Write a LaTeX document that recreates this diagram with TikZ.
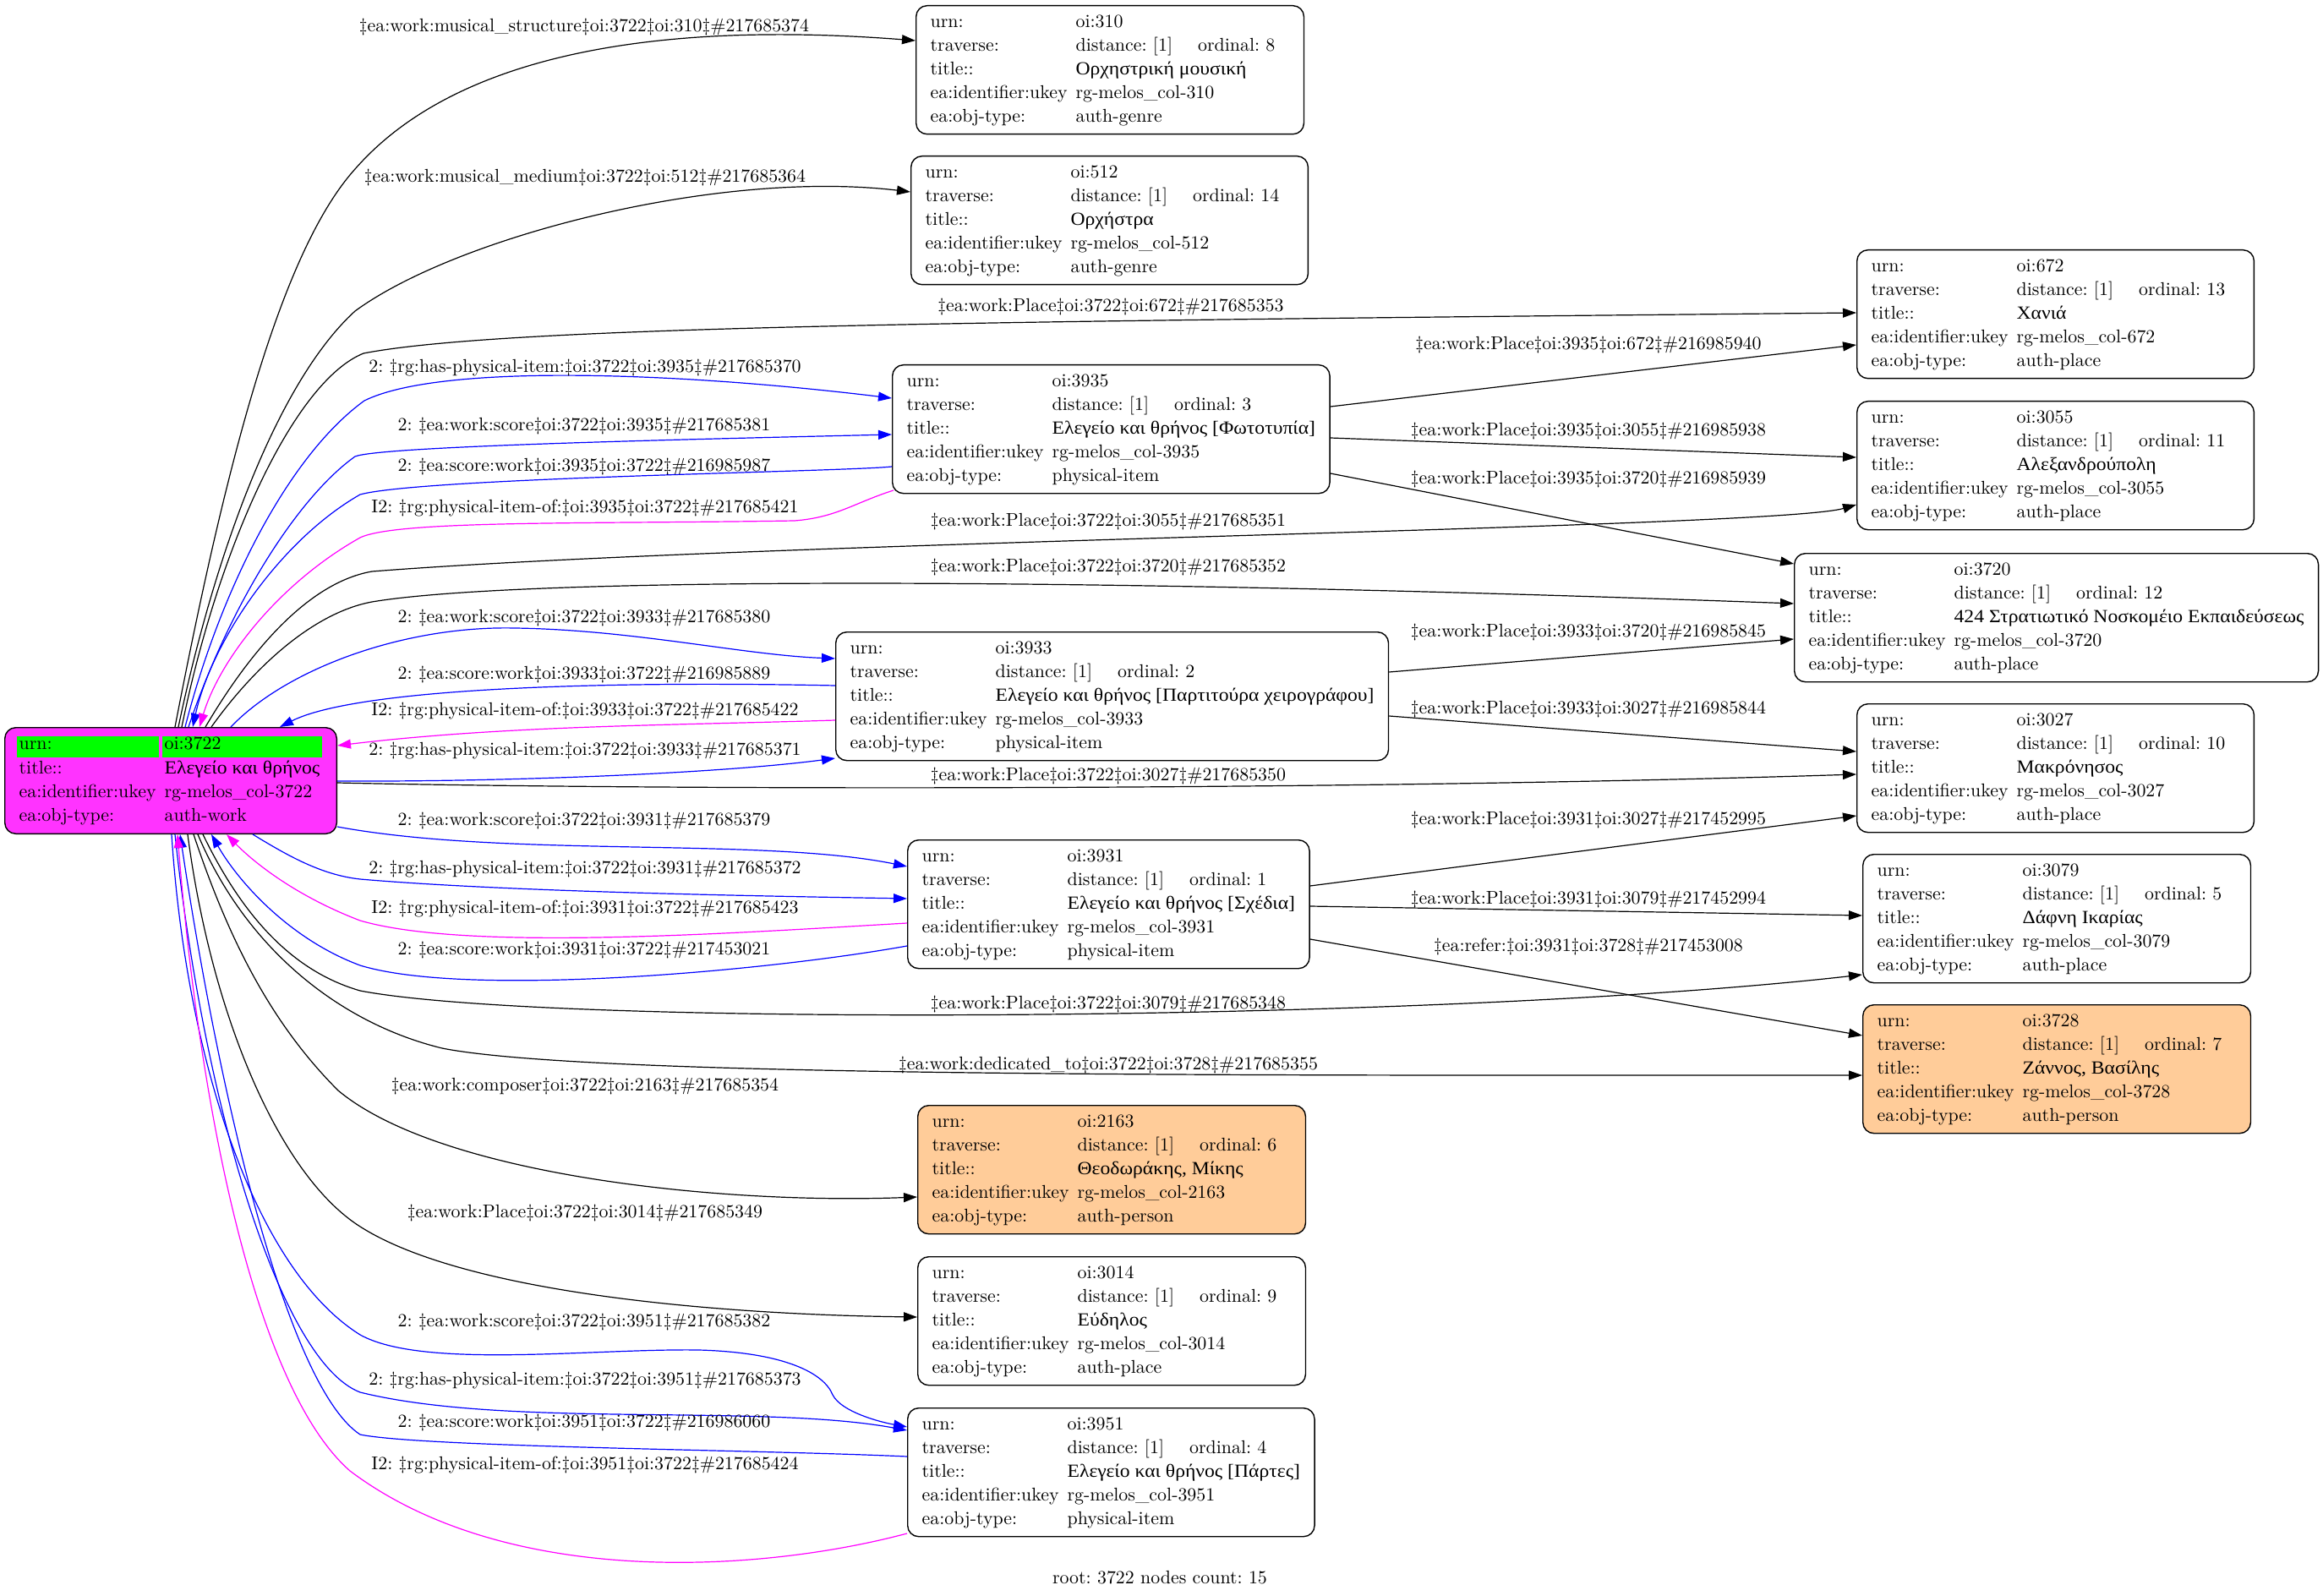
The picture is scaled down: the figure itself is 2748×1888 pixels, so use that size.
\documentclass[tikz,border=0pt]{standalone}
\usepackage{fontspec}
\usepackage{xcolor}
\usepackage{tikz}
\usetikzlibrary{arrows.meta}
\newfontfamily\gr[FakeStretch=1.08]{Liberation Serif}
\definecolor{rootpink}{RGB}{255,51,255}
\definecolor{peach}{RGB}{255,204,153}
\definecolor{hlgreen}{RGB}{0,255,0}
\definecolor{pinkline}{RGB}{255,0,255}
\definecolor{blueline}{RGB}{0,0,255}
\tikzset{
    record/.style={
        rectangle,
        rounded corners=6.5pt,
        draw=black,
        line width=0.7pt,
        fill=white,
        anchor=north west,
        inner xsep=8.5pt,
        inner ysep=3pt,
        font=\fontsize{10.95}{14}\selectfont,
    },
    person/.style={record, fill=peach},
    rootrec/.style={record, fill=rootpink},
    lbl/.style={inner sep=0pt, font=\fontsize{10.95}{14}\selectfont},
    plainedge/.style={->, draw=black, line width=0.6pt},
    blueedge/.style={->, draw=blueline, line width=0.6pt},
    pinkedge/.style={->, draw=pinkline, line width=0.6pt},
}
\newcommand{\recbody}[4]{%
  \begin{tabular}{@{}l@{\hspace{5pt}}l@{}}
    urn: & oi:#1\\
    traverse: & distance: [1]\hspace{15pt}ordinal: #2\kern8.5pt\\
    title:: & #3\\
    ea:identifier:ukey & rg-melos\_col-#1\\
    ea:obj-type: & #4
  \end{tabular}}
\newcommand{\hlcell}[2]{\hspace{-1.5pt}{\setlength{\fboxsep}{1.5pt}\colorbox{hlgreen}{\rule[-3.5pt]{0pt}{9.5pt}\smash{\rlap{#1}}\hphantom{#2}}}\hspace{-1.5pt}}
\frenchspacing

\begin{document}
\begin{tikzpicture}[x=0.5pt, y=-0.5pt, >={Triangle[length=8pt,width=5.5pt]}]
      \path[fill=white] (0,0) rectangle (2748,1888);
      \useasboundingbox (0,0) rectangle (2748,1888);

      % root record
      \node [rootrec] (Root) at (5,860) {\begin{tabular}{@{}l@{\hspace{5pt}}l@{}}
        \hlcell{urn:}{ea:identifier:ukey} & \hlcell{oi:3722}{\gr Ελεγείο και θρήνος}\\
        title:: & {\gr Ελεγείο και θρήνος}\\
        ea:identifier:ukey & rg-melos\_col-3722\\
        ea:obj-type: & auth-work
      \end{tabular}};

      % middle column
      \node [record] (N310) at (1083,6) {\recbody{310}{8}{{\gr Ορχηστρική μουσική}}{auth-genre}};
      \node [record] (N512) at (1077,184) {\recbody{512}{14}{{\gr Ορχήστρα}}{auth-genre}};
      \node [record] (N3935) at (1055,431) {\recbody{3935}{3}{{\gr Ελεγείο και θρήνος [Φωτοτυπία]}}{physical-item}};
      \node [record] (N3933) at (988,747) {\recbody{3933}{2}{{\gr Ελεγείο και θρήνος [Παρτιτούρα χειρογράφου]}}{physical-item}};
      \node [record] (N3931) at (1073,993) {\recbody{3931}{1}{{\gr Ελεγείο και θρήνος [Σχέδια]}}{physical-item}};
      \node [person] (N2163) at (1085,1307) {\recbody{2163}{6}{{\gr Θεοδωράκης, Μίκης}}{auth-person}};
      \node [record] (N3014) at (1085,1486) {\recbody{3014}{9}{{\gr Εύδηλος}}{auth-place}};
      \node [record] (N3951) at (1073,1665) {\recbody{3951}{4}{{\gr Ελεγείο και θρήνος [Πάρτες]}}{physical-item}};

      % right column
      \node [record] (N672) at (2196,295) {\recbody{672}{13}{{\gr Χανιά}}{auth-place}};
      \node [record] (N3055) at (2196,474) {\recbody{3055}{11}{{\gr Αλεξανδρούπολη}}{auth-place}};
      \node [record] (N3720) at (2122,654) {\recbody{3720}{12}{{\gr 424 Στρατιωτικό Νοσκομέιο Εκπαιδεύσεως}}{auth-place}};
      \node [record] (N3027) at (2196,832) {\recbody{3027}{10}{{\gr Μακρόνησος}}{auth-place}};
      \node [record] (N3079) at (2203,1010) {\recbody{3079}{5}{{\gr Δάφνη Ικαρίας}}{auth-place}};
      \node [person] (N3728) at (2203,1188) {\recbody{3728}{7}{{\gr Ζάννος, Βασίλης}}{auth-person}};

      % edges leaving the top of the root
      \draw[plainedge] ([shift={(202,0)}]Root.north west) .. controls (265,560) and (330,300) .. (420,200) .. controls (560,40) and (850,30) .. ([shift={(0,42)}]N310.north west);
      \draw[plainedge] ([shift={(206,0)}]Root.north west) .. controls (255,650) and (330,450) .. (420,368) .. controls (540,280) and (850,200) .. ([shift={(0,43)}]N512.north west);
      \draw[plainedge] ([shift={(210,0)}]Root.north west) .. controls (260,640) and (350,450) .. (430,418) .. controls (600,385) and (1200,380) .. ([shift={(0,75)}]N672.north west);
      \draw[plainedge] ([shift={(238,0)}]Root.north west) .. controls (290,780) and (360,690) .. (440,676) .. controls (900,640) and (2100,625) .. ([shift={(0,123)}]N3055.north west);
      \draw[plainedge] ([shift={(245,0)}]Root.north west) .. controls (300,790) and (370,725) .. (440,712) .. controls (600,685) and (1200,680) .. ([shift={(0,60)}]N3720.north west);
      \draw[blueedge] ([shift={(214,0)}]Root.north west) .. controls (260,700) and (340,540) .. (431,474) .. controls (520,430) and (800,440) .. ([shift={(0,40)}]N3935.north west);
      \draw[blueedge] ([shift={(218,0)}]Root.north west) .. controls (270,720) and (350,590) .. (420,540) .. controls (450,528) and (800,520) .. ([shift={(0,83)}]N3935.north west);
      \draw[blueedge] ([shift={(0,121)}]N3935.north west) .. controls (1000,558) and (500,565) .. (426,585) .. controls (330,640) and (250,760) .. ([shift={(223,0)}]Root.north west);
      \draw[pinkedge] ([shift={(2,149)}]N3935.north west) .. controls (1010,595) and (990,612) .. (940,616) .. controls (700,620) and (470,615) .. (426,636) .. controls (330,690) and (260,780) .. ([shift={(231,0)}]Root.north west);
      \draw[blueedge] ([shift={(268,0)}]Root.north west) .. controls (340,790) and (480,740) .. (609,743) .. controls (750,745) and (880,775) .. ([shift={(0,32)}]N3933.north west);
      \draw[blueedge] ([shift={(0,64)}]N3933.north west) .. controls (700,805) and (420,815) .. ([shift={(326,0)}]Root.north west);

      % edges leaving the right side of the root
      \draw[pinkedge] ([shift={(0,105)}]N3933.north west) .. controls (800,858) and (600,858) .. ([shift={(0,22)}]Root.north east);
      \draw[blueedge] ([shift={(0,64)}]Root.north east) .. controls (600,925) and (850,915) .. ([shift={(0,150)}]N3933.north west);
      \draw[plainedge] ([shift={(0,66)}]Root.north east) .. controls (800,935) and (1600,935) .. ([shift={(0,84)}]N3027.north west);
      \draw[blueedge] ([shift={(0,118)}]Root.north east) .. controls (600,1015) and (900,990) .. ([shift={(0,32)}]N3931.north west);

      % edges leaving the bottom of the root
      \draw[blueedge] ([shift={(294,0)}]Root.south west) .. controls (340,1012) and (380,1035) .. (426,1040) .. controls (600,1055) and (900,1060) .. ([shift={(0,70)}]N3931.north west);
      \draw[pinkedge] ([shift={(0,99)}]N3931.north west) .. controls (850,1105) and (550,1125) .. (426,1089) .. controls (350,1060) and (300,1020) .. ([shift={(263,0)}]Root.south west);
      \draw[blueedge] ([shift={(0,126)}]N3931.north west) .. controls (900,1150) and (550,1180) .. (426,1142) .. controls (340,1110) and (280,1040) .. ([shift={(245,0)}]Root.south west);
      \draw[plainedge] ([shift={(235,0)}]Root.south west) .. controls (290,1090) and (350,1150) .. (426,1172) .. controls (650,1215) and (1700,1210) .. ([shift={(0,143)}]N3079.north west);
      \draw[plainedge] ([shift={(229,0)}]Root.south west) .. controls (290,1120) and (400,1210) .. (523,1240) .. controls (700,1275) and (1500,1272) .. ([shift={(0,84)}]N3728.north west);
      \draw[plainedge] ([shift={(224,0)}]Root.south west) .. controls (270,1110) and (320,1210) .. (400,1290) .. controls (520,1390) and (850,1425) .. ([shift={(0,109)}]N2163.north west);
      \draw[plainedge] ([shift={(217,0)}]Root.south west) .. controls (250,1200) and (330,1390) .. (426,1451) .. controls (550,1530) and (850,1555) .. ([shift={(0,72)}]N3014.north west);
      \draw[blueedge] ([shift={(198,0)}]Root.south west) .. controls (220,1250) and (300,1500) .. (426,1579) .. controls (500,1620) and (700,1595) .. (827,1597) .. controls (930,1600) and (975,1625) .. (985,1650) .. controls (995,1670) and (1040,1682) .. ([shift={(0,23)}]N3951.north west);
      \draw[blueedge] ([shift={(202,0)}]Root.south west) .. controls (240,1300) and (330,1610) .. (426,1647) .. controls (600,1690) and (900,1660) .. ([shift={(0,27)}]N3951.north west);
      \draw[blueedge] ([shift={(0,58)}]N3951.north west) .. controls (900,1715) and (500,1712) .. (426,1697) .. controls (340,1640) and (260,1300) .. ([shift={(208,0)}]Root.south west);
      \draw[pinkedge] ([shift={(0,149)}]N3951.north west) .. controls (900,1860) and (600,1880) .. (414,1740) .. controls (300,1640) and (235,1300) .. ([shift={(205,0)}]Root.south west);

      % item -> place edges
      \draw[plainedge] ([shift={(0,50)}]N3935.north east) -- ([shift={(0,113)}]N672.north west);
      \draw[plainedge] ([shift={(0,87)}]N3935.north east) -- ([shift={(0,67)}]N3055.north west);
      \draw[plainedge] ([shift={(0,129)}]N3935.north east) -- ([shift={(0,13)}]N3720.north west);
      \draw[plainedge] ([shift={(0,48)}]N3933.north east) -- ([shift={(0,102)}]N3720.north west);
      \draw[plainedge] ([shift={(0,100)}]N3933.north east) -- ([shift={(0,57)}]N3027.north west);
      \draw[plainedge] ([shift={(0,55)}]N3931.north east) -- ([shift={(0,133)}]N3027.north west);
      \draw[plainedge] ([shift={(0,79)}]N3931.north east) -- ([shift={(0,73)}]N3079.north west);
      \draw[plainedge] ([shift={(0,118)}]N3931.north east) -- ([shift={(0,37)}]N3728.north west);

      % labels
      \node [lbl] (Lab310) at (691,32) {‡ea:work:musical\_structure‡oi:3722‡oi:310‡\#217685374};
      \node [lbl] (Lab512) at (692,210) {‡ea:work:musical\_medium‡oi:3722‡oi:512‡\#217685364};
      \node [lbl] (Lab672) at (1314,363) {‡ea:work:Place‡oi:3722‡oi:672‡\#217685353};
      \node [lbl] (LabHas3935) at (692,435) {2: ‡rg:has-physical-item:‡oi:3722‡oi:3935‡\#217685370};
      \node [lbl] (LabScore3935) at (691,504) {2: ‡ea:work:score‡oi:3722‡oi:3935‡\#217685381};
      \node [lbl] (LabWork3935) at (691,552) {2: ‡ea:score:work‡oi:3935‡oi:3722‡\#216985987};
      \node [lbl] (LabOf3935) at (692,601) {I2: ‡rg:physical-item-of:‡oi:3935‡oi:3722‡\#217685421};
      \node [lbl] (Lab3055) at (1311,617) {‡ea:work:Place‡oi:3722‡oi:3055‡\#217685351};
      \node [lbl] (Lab3720) at (1311,671) {‡ea:work:Place‡oi:3722‡oi:3720‡\#217685352};
      \node [lbl] (LabScore3933) at (691,731) {2: ‡ea:work:score‡oi:3722‡oi:3933‡\#217685380};
      \node [lbl] (LabWork3933) at (691,798) {2: ‡ea:score:work‡oi:3933‡oi:3722‡\#216985889};
      \node [lbl] (LabOf3933) at (692,841) {I2: ‡rg:physical-item-of:‡oi:3933‡oi:3722‡\#217685422};
      \node [lbl] (LabHas3933) at (692,888) {2: ‡rg:has-physical-item:‡oi:3722‡oi:3933‡\#217685371};
      \node [lbl] (Lab3027) at (1311,918) {‡ea:work:Place‡oi:3722‡oi:3027‡\#217685350};
      \node [lbl] (LabScore3931) at (691,971) {2: ‡ea:work:score‡oi:3722‡oi:3931‡\#217685379};
      \node [lbl] (LabHas3931) at (692,1028) {2: ‡rg:has-physical-item:‡oi:3722‡oi:3931‡\#217685372};
      \node [lbl] (LabOf3931) at (692,1075) {I2: ‡rg:physical-item-of:‡oi:3931‡oi:3722‡\#217685423};
      \node [lbl] (LabWork3931) at (691,1124) {2: ‡ea:score:work‡oi:3931‡oi:3722‡\#217453021};
      \node [lbl] (Lab3079) at (1311,1188) {‡ea:work:Place‡oi:3722‡oi:3079‡\#217685348};
      \node [lbl] (Lab3728) at (1311,1260) {‡ea:work:dedicated\_to‡oi:3722‡oi:3728‡\#217685355};
      \node [lbl] (Lab2163) at (692,1285) {‡ea:work:composer‡oi:3722‡oi:2163‡\#217685354};
      \node [lbl] (Lab3014) at (692,1435) {‡ea:work:Place‡oi:3722‡oi:3014‡\#217685349};
      \node [lbl] (LabScore3951) at (691,1564) {2: ‡ea:work:score‡oi:3722‡oi:3951‡\#217685382};
      \node [lbl] (LabHas3951) at (692,1633) {2: ‡rg:has-physical-item:‡oi:3722‡oi:3951‡\#217685373};
      \node [lbl] (LabWork3951) at (691,1683) {2: ‡ea:score:work‡oi:3951‡oi:3722‡\#216986060};
      \node [lbl] (LabOf3951) at (692,1733) {I2: ‡rg:physical-item-of:‡oi:3951‡oi:3722‡\#217685424};
      \node [lbl] (LabA) at (1879,408) {‡ea:work:Place‡oi:3935‡oi:672‡\#216985940};
      \node [lbl] (LabB) at (1879,510) {‡ea:work:Place‡oi:3935‡oi:3055‡\#216985938};
      \node [lbl] (LabC) at (1879,567) {‡ea:work:Place‡oi:3935‡oi:3720‡\#216985939};
      \node [lbl] (LabD) at (1879,748) {‡ea:work:Place‡oi:3933‡oi:3720‡\#216985845};
      \node [lbl] (LabE) at (1879,839) {‡ea:work:Place‡oi:3933‡oi:3027‡\#216985844};
      \node [lbl] (LabF) at (1879,970) {‡ea:work:Place‡oi:3931‡oi:3027‡\#217452995};
      \node [lbl] (LabG) at (1879,1064) {‡ea:work:Place‡oi:3931‡oi:3079‡\#217452994};
      \node [lbl] (LabH) at (1879,1120) {‡ea:refer:‡oi:3931‡oi:3728‡\#217453008};

      \node [lbl] (Footer) at (1372,1866) {root: 3722 nodes count: 15};
    \end{tikzpicture}
\end{document}
